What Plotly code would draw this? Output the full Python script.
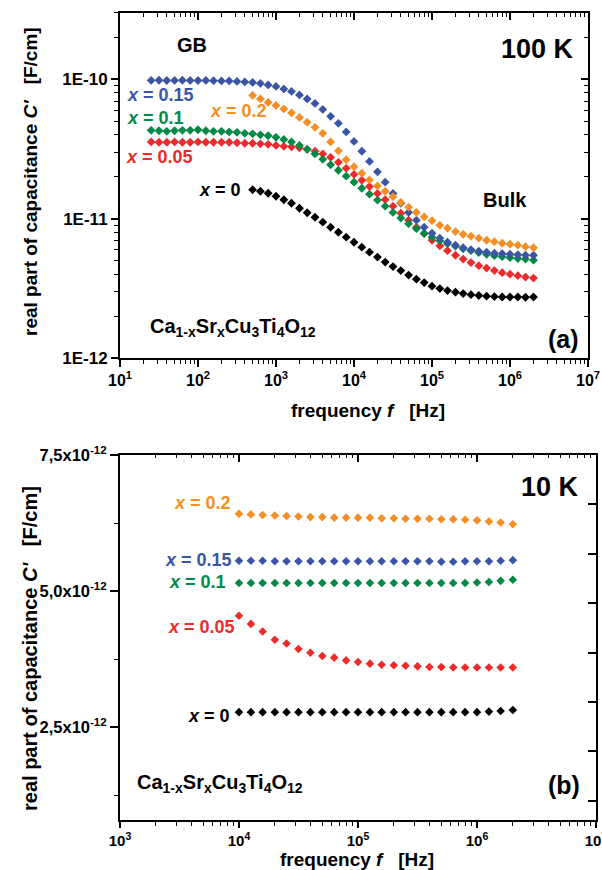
import plotly.graph_objects as go

W, H = 602, 870
FONT = "Liberation Sans"
NB = "\u00a0"

# ---------------- data ----------------
# frequencies (Hz), 10 points per decade
freq_100K = [25.1, 31.6, 39.8, 50.1, 63.1, 79.4, 100, 126, 158, 200, 251, 316, 398, 501, 631, 794,
             1000, 1260, 1580, 2000, 2510, 3160, 3980, 5010, 6310, 7940,
             10000, 12600, 15800, 20000, 25100, 31600, 39800, 50100, 63100, 79400,
             100000, 126000, 158000, 200000, 251000, 316000, 398000, 501000, 631000, 794000,
             1000000, 1260000, 1580000, 2000000]
freq_100K_short = [501, 631, 794,
                   1000, 1260, 1580, 2000, 2510, 3160, 3980, 5010, 6310, 7940,
                   10000, 12600, 15800, 20000, 25100, 31600, 39800, 50100, 63100, 79400,
                   100000, 126000, 158000, 200000, 251000, 316000, 398000, 501000, 631000, 794000,
                   1000000, 1260000, 1580000, 2000000]
freq_10K = [10000, 12600, 15800, 20000, 25100, 31600, 39800, 50100, 63100, 79400,
            100000, 126000, 158000, 200000, 251000, 316000, 398000, 501000, 631000, 794000,
            1000000, 1260000, 1580000, 2000000]

# 100 K capacitance, in units of 1e-12 F/cm
C100_x015 = [98.4, 98.6, 98.2, 98.4, 98.6, 98.4, 98.2, 98.4, 98.0, 97.6, 97.6, 96.8, 96.0, 95.2,
             93.6, 91.3, 89.1, 85.5, 82.0, 77.4, 72.5, 67.3, 60.9, 54.3, 48.4, 42.0,
             35.9, 30.5, 25.8, 21.7, 18.3, 15.2, 12.9, 11.1, 9.77, 8.69,
             7.87, 7.25, 6.78, 6.46, 6.19, 5.99, 5.85, 5.75, 5.66, 5.61, 5.56, 5.51, 5.47, 5.47]
C100_x01 = [43.1, 42.8, 42.4, 42.8, 43.1, 43.1, 43.5, 42.8, 42.4, 42.4, 42.0, 41.7, 41.0, 40.7,
            40.0, 39.4, 38.4, 37.1, 35.6, 33.6, 31.5, 29.2, 26.7, 24.4, 22.3, 20.2,
            18.3, 16.55, 15.0, 13.6, 12.3, 11.1, 10.1, 9.21, 8.48, 7.87,
            7.37, 6.96, 6.62, 6.35, 6.09, 5.90, 5.71, 5.56, 5.43, 5.34, 5.25, 5.17, 5.13, 5.04]
C100_x005 = [35.6, 35.4, 35.4, 35.6, 35.4, 35.4, 35.6, 35.4, 35.4, 35.4, 35.4, 35.1, 34.8, 34.8,
             34.5, 34.2, 33.6, 33.1, 32.8, 32.3, 31.5, 30.5, 29.2, 27.6, 25.4, 23.0,
             20.8, 18.9, 17.0, 15.2, 13.7, 12.3, 10.95, 9.77, 8.69, 7.81,
             7.01, 6.40, 5.90, 5.47, 5.13, 4.84, 4.60, 4.42, 4.24, 4.10, 4.00, 3.90, 3.81, 3.75]
C100_x02 = [76.8, 72.5, 68.4, 65.1, 61.4, 57.5, 53.4, 49.2, 45.3, 41.0, 35.6, 30.7, 26.5,
            23.6, 21.2, 19.0, 17.2, 15.75, 14.4, 13.1, 12.1, 11.1, 10.3,
            9.68, 8.98, 8.55, 8.07, 7.74, 7.49, 7.25, 7.01, 6.84, 6.67,
            6.57, 6.46, 6.30, 6.19]
C100_x0 = [16.14, 15.75, 15.24, 14.50, 13.68, 12.92, 11.89, 11.04, 10.25, 9.44, 8.69, 8.00, 7.37,
           6.78, 6.25, 5.75, 5.30, 4.88, 4.53, 4.24, 3.94, 3.68, 3.48,
           3.28, 3.15, 3.05, 2.97, 2.90, 2.85, 2.81, 2.78, 2.76, 2.74,
           2.74, 2.74, 2.73, 2.74]

# 10 K capacitance, in units of 1e-12 F/cm
C10_x02 = [6.42, 6.41, 6.40, 6.39, 6.38, 6.37, 6.36, 6.36, 6.35, 6.35, 6.35, 6.35, 6.34, 6.34,
           6.33, 6.33, 6.33, 6.32, 6.32, 6.31, 6.30, 6.28, 6.26, 6.23]
C10_x015 = [5.56, 5.56, 5.56, 5.55, 5.55, 5.55, 5.55, 5.55, 5.55, 5.55, 5.55, 5.55, 5.55, 5.55,
            5.55, 5.55, 5.55, 5.54, 5.54, 5.55, 5.55, 5.55, 5.56, 5.57]
C10_x01 = [5.15, 5.15, 5.15, 5.15, 5.15, 5.15, 5.15, 5.15, 5.15, 5.15, 5.15, 5.15, 5.15, 5.15,
           5.15, 5.15, 5.15, 5.15, 5.15, 5.15, 5.16, 5.17, 5.19, 5.21]
C10_x005 = [4.55, 4.40, 4.26, 4.11, 4.04, 3.94, 3.87, 3.81, 3.78, 3.73, 3.70, 3.67, 3.65, 3.64,
            3.63, 3.62, 3.61, 3.61, 3.60, 3.60, 3.60, 3.60, 3.60, 3.60]
C10_x0 = [2.78, 2.78, 2.78, 2.78, 2.78, 2.78, 2.78, 2.78, 2.78, 2.78, 2.78, 2.78, 2.78, 2.78,
          2.78, 2.78, 2.78, 2.78, 2.78, 2.78, 2.78, 2.79, 2.80, 2.82]

# tick labels
top_xtickvals = [1e1, 1e2, 1e3, 1e4, 1e5, 1e6, 1e7]
top_xticktext = ["10<sup>1</sup>", "10<sup>2</sup>", "10<sup>3</sup>", "10<sup>4</sup>",
                 "10<sup>5</sup>", "10<sup>6</sup>", "10<sup>7</sup>"]
top_ytickvals = [1e-12, 1e-11, 1e-10]
top_yticktext = ["1E-12", "1E-11", "1E-10"]
bot_xtickvals = [1e3, 1e4, 1e5, 1e6, 1e7]
bot_xticktext = ["10<sup>3</sup>", "10<sup>4</sup>", "10<sup>5</sup>", "10<sup>6</sup>", "10<sup>7</sup>"]
bot_ytickvals = [2.5e-12, 5.0e-12, 7.5e-12]
bot_yticktext = ["2,5x10<sup>-12</sup>", "5,0x10<sup>-12</sup>", "7,5x10<sup>-12</sup>"]

COL = {"0.2": "#F68E26", "0.15": "#3A55A6", "0.1": "#008A45", "0.05": "#EE2A2B", "0": "#000000"}


def sc(vals):
    return [v * 1e-12 for v in vals]


fig = go.Figure()

top_series = [
    (freq_100K, C100_x005, "0.05"),
    (freq_100K, C100_x01, "0.1"),
    (freq_100K, C100_x015, "0.15"),
    (freq_100K_short, C100_x02, "0.2"),
    (freq_100K_short, C100_x0, "0"),
]
for fx, cy, lab in top_series:
    fig.add_trace(go.Scatter(x=fx, y=sc(cy), mode="markers", xaxis="x", yaxis="y",
                             marker=dict(symbol="diamond", size=6.8, color=COL[lab], line=dict(width=0)),
                             showlegend=False, name="x = " + lab))

bot_series = [
    (C10_x02, "0.2"), (C10_x015, "0.15"), (C10_x01, "0.1"), (C10_x005, "0.05"), (C10_x0, "0"),
]
for cy, lab in bot_series:
    fig.add_trace(go.Scatter(x=freq_10K, y=sc(cy), mode="markers", xaxis="x2", yaxis="y2",
                             marker=dict(symbol="diamond", size=6.6, color=COL[lab], line=dict(width=0)),
                             showlegend=False, name="x = " + lab))

# empty traces to activate mirror axes
fig.add_trace(go.Scatter(x=[], y=[], xaxis="x3", yaxis="y3", showlegend=False, hoverinfo="skip"))
fig.add_trace(go.Scatter(x=[], y=[], xaxis="x4", yaxis="y4", showlegend=False, hoverinfo="skip"))

# --------------- layout ---------------
xd_top = [120 / W, 588 / W]
yd_top = [1 - 358 / H, 1 - 13 / H]
xd_bot = [120 / W, 596 / W]
yd_bot = [1 - 820 / H, 1 - 455 / H]

LW = 2
log_minor_x = [m * 10 ** e for e in range(0, 8) for m in range(2, 10)]
log_minor_y = [m * 10.0 ** e for e in range(-13, -8) for m in range(2, 10)]

common = dict(showgrid=False, zeroline=False, showline=True, linecolor="black", linewidth=LW,
              tickcolor="black", tickwidth=1.5, automargin=False)


def tf(size):
    return dict(family=FONT, size=size, color="black", weight="bold")


fig.update_layout(
    width=W, height=H, margin=dict(l=0, r=0, t=0, b=0),
    paper_bgcolor="white", plot_bgcolor="white", showlegend=False,
    xaxis=dict(domain=xd_top, anchor="y", type="log", range=[1, 7], ticks="outside", ticklen=7,
               tickmode="array", tickvals=top_xtickvals, ticktext=top_xticktext, tickfont=tf(16),
               ticklabeloverflow="allow",
               minor=dict(ticks="outside", ticklen=4, tickwidth=1.2, tickcolor="black",
                          tickmode="array", tickvals=log_minor_x, showgrid=False), **common),
    yaxis=dict(domain=yd_top, anchor="x", type="log", range=[-12, -9.523], ticks="outside", ticklen=7,
               tickmode="array", tickvals=top_ytickvals, ticktext=top_yticktext, tickfont=tf(17),
               minor=dict(ticks="outside", ticklen=4, tickwidth=1.2, tickcolor="black",
                          tickmode="array", tickvals=log_minor_y, showgrid=False), **common),
    xaxis3=dict(overlaying="x", anchor="y", side="top", type="log", range=[1, 7], ticks="inside",
                ticklen=7, tickmode="array", tickvals=top_xtickvals, showticklabels=False,
                minor=dict(ticks="inside", ticklen=4, tickwidth=1.2, tickcolor="black",
                           tickmode="array", tickvals=log_minor_x, showgrid=False), **common),
    yaxis3=dict(overlaying="y", anchor="x", side="right", type="log", range=[-12, -9.523], ticks="inside",
                ticklen=7, tickmode="array", tickvals=top_ytickvals, showticklabels=False,
                minor=dict(ticks="inside", ticklen=4, tickwidth=1.2, tickcolor="black",
                           tickmode="array", tickvals=log_minor_y, showgrid=False), **common),
    xaxis2=dict(domain=xd_bot, anchor="y2", type="log", range=[3, 7], ticks="outside", ticklen=6,
                tickmode="array", tickvals=bot_xtickvals, ticktext=bot_xticktext, tickfont=tf(15),
                ticklabeloverflow="allow",
                minor=dict(ticks="outside", ticklen=4, tickwidth=1.2, tickcolor="black",
                           tickmode="array", tickvals=log_minor_x, showgrid=False), **common),
    yaxis2=dict(domain=yd_bot, anchor="x2", type="linear", range=[0.8e-12, 7.5e-12], ticks="outside",
                ticklen=8, tickmode="array", tickvals=bot_ytickvals, ticktext=bot_yticktext,
                tickfont=tf(16.5), ticklabeloverflow="allow",
                minor=dict(ticks="outside", ticklen=4, tickwidth=1.2, tickcolor="black",
                           tickmode="array", tickvals=[1.25e-12, 3.75e-12, 6.25e-12], showgrid=False),
                **common),
    xaxis4=dict(overlaying="x2", anchor="y2", side="top", type="log", range=[3, 7], ticks="inside",
                ticklen=7, tickmode="array", tickvals=bot_xtickvals, showticklabels=False,
                minor=dict(ticks="inside", ticklen=3, tickwidth=1.2, tickcolor="black",
                           tickmode="array", tickvals=log_minor_x, showgrid=False), **common),
    yaxis4=dict(overlaying="y2", anchor="x2", side="right", type="linear", range=[0.8e-12, 7.5e-12],
                ticks="inside", ticklen=8, tickmode="linear", tick0=7.5e-12, dtick=0.9066e-12,
                showticklabels=False, **common),
)


def ann(text, x, y, size, color="black", xanchor="center", angle=0):
    fig.add_annotation(text=text, x=x / W, y=1 - y / H, xref="paper", yref="paper", showarrow=False,
                       xanchor=xanchor, yanchor="middle", textangle=angle,
                       font=dict(family=FONT, size=size, color=color, weight="bold"))


formula = "Ca<sub>1-x</sub>Sr<sub>x</sub>Cu<sub>3</sub>Ti<sub>4</sub>O<sub>12</sub>"
ytitle = "real part of capacitance <i>C'</i>" + NB * 3 + "[F/cm]"
xtitle = "frequency" + NB + "<i>f</i>" + NB * 3 + "[Hz]"

# top panel texts
ann("GB", 192, 45, 20)
ann("100 K", 537, 49, 27)
ann("Bulk", 505, 200, 20)
ann("<i>x</i> = 0.15", 160, 95, 18, COL["0.15"])
ann("<i>x</i> = 0.1", 155, 118, 18, COL["0.1"])
ann("<i>x</i> = 0.05", 159, 157, 18, COL["0.05"])
ann("<i>x</i> = 0.2", 238, 111, 18, COL["0.2"])
ann("<i>x</i> = 0", 220, 190, 18, COL["0"])
ann(formula, 148, 327, 20, xanchor="left")
ann("(a)", 563, 339, 25)
ann(xtitle, 368, 410, 19)
ann(ytitle, 30, 182, 19, angle=-90)

# bottom panel texts
ann("10 K", 550, 487, 27)
ann("<i>x</i> = 0.2", 202, 503, 18, COL["0.2"])
ann("<i>x</i> = 0.15", 198, 560, 18, COL["0.15"])
ann("<i>x</i> = 0.1", 197, 582, 18, COL["0.1"])
ann("<i>x</i> = 0.05", 201, 627, 18, COL["0.05"])
ann("<i>x</i> = 0", 209, 716, 18, COL["0"])
ann(formula, 135, 783, 20, xanchor="left")
ann("(b)", 564, 785, 25)
ann(xtitle, 357, 859, 19)
ann(ytitle, 30, 649, 20, angle=-90)

fig.write_html("out.html", post_script="document.body.style.margin='0px';",
               config={"displayModeBar": False})
